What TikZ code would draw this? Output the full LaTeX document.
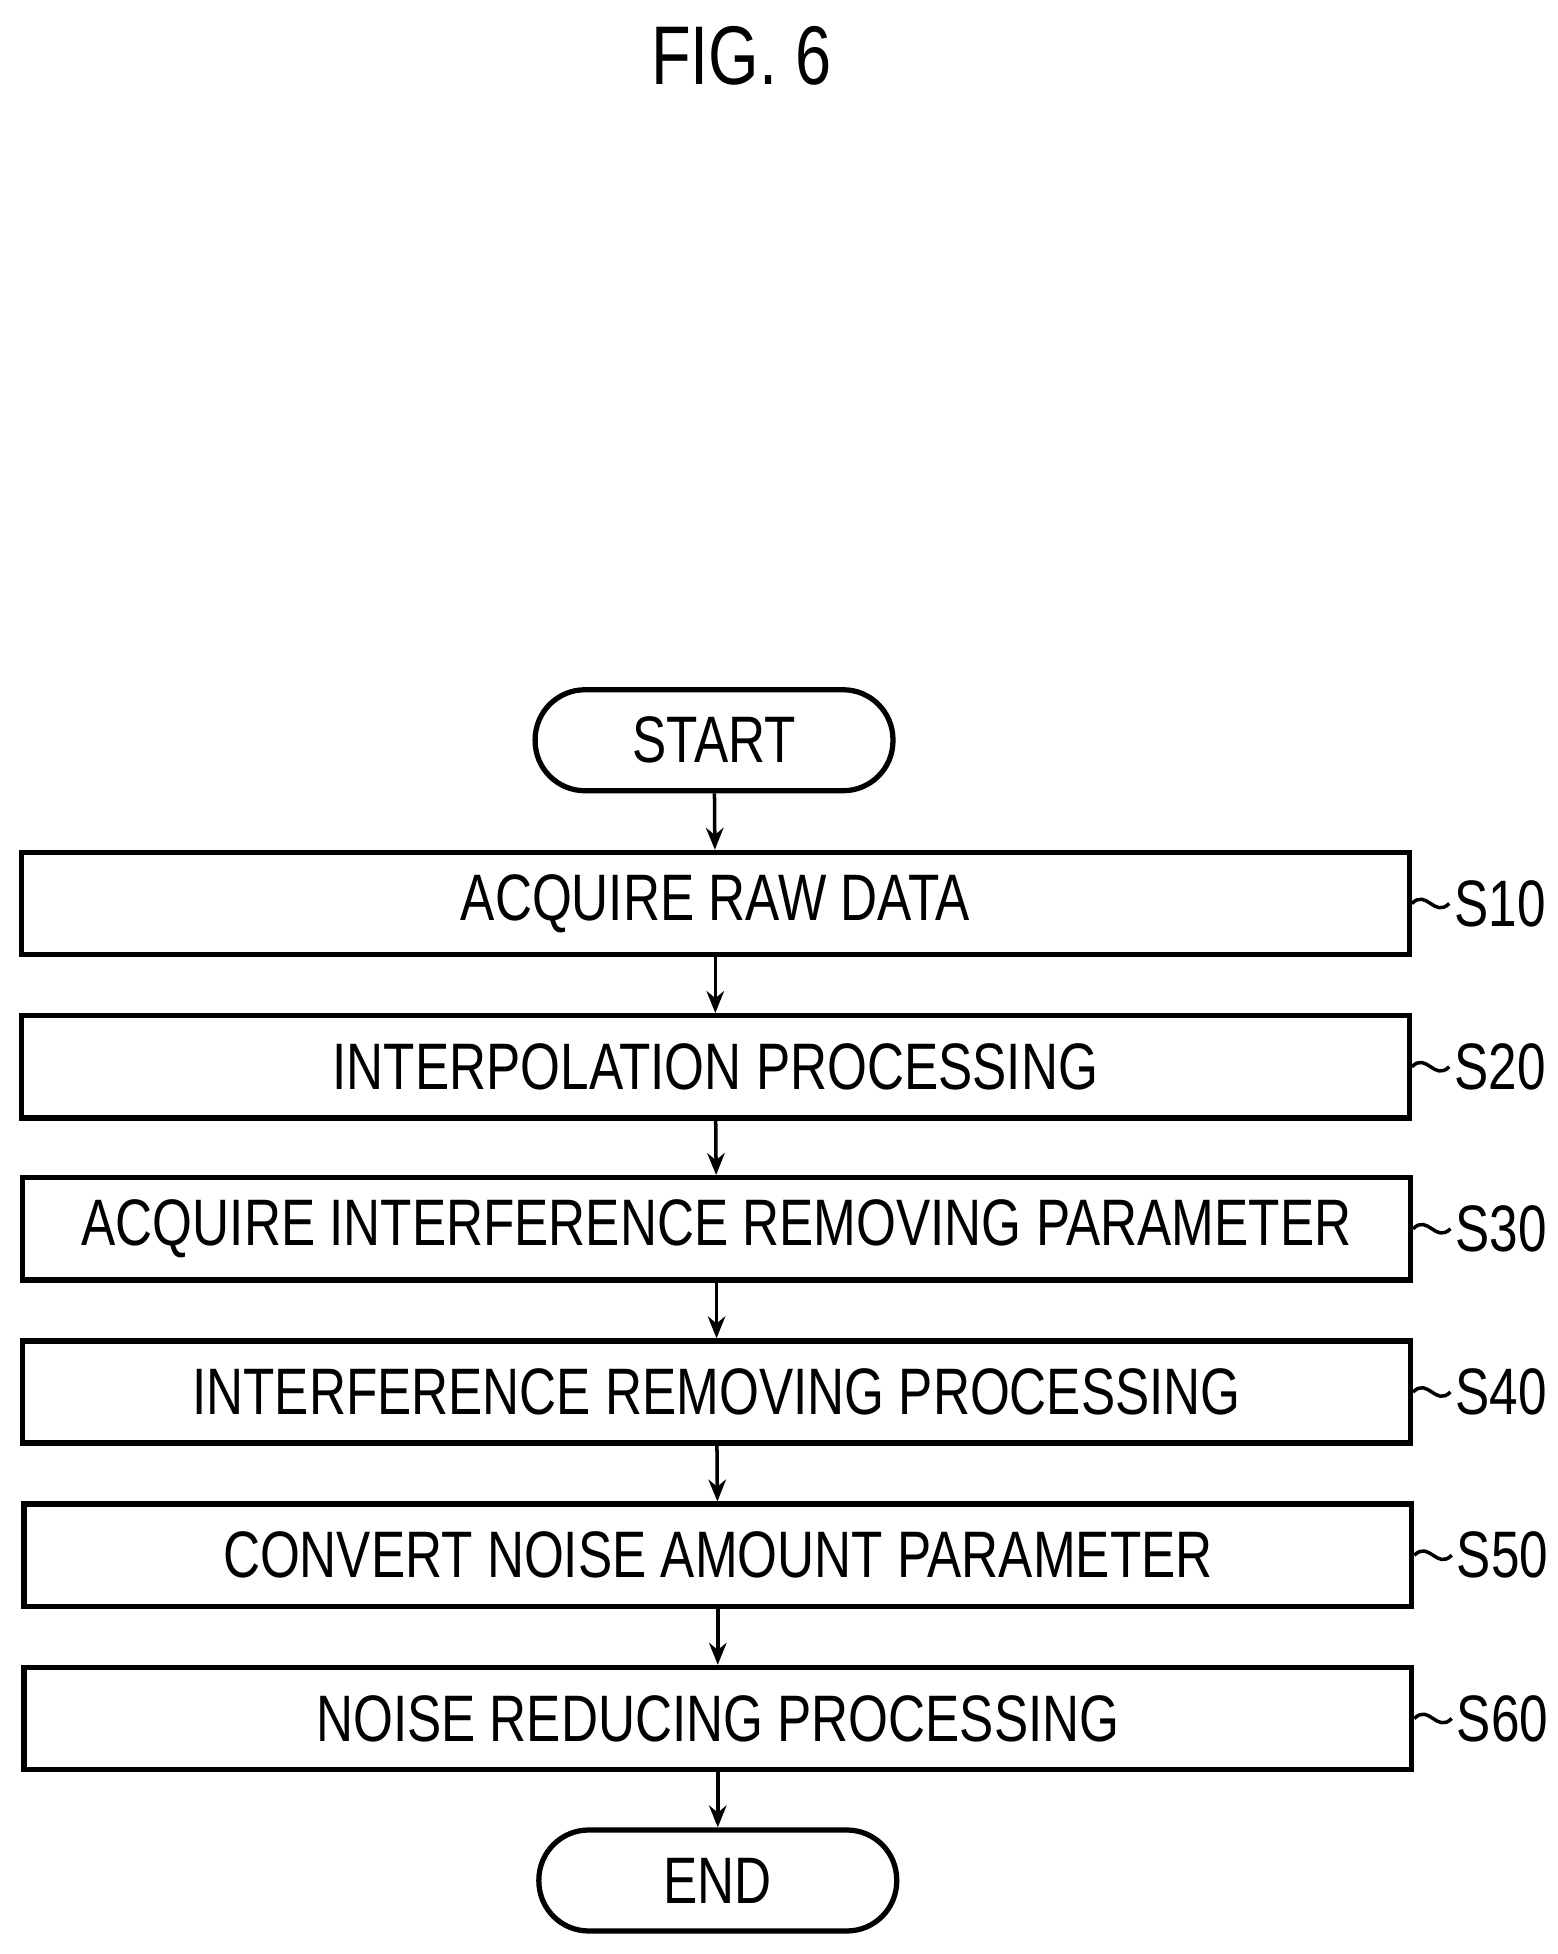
\documentclass[tikz,border=0pt]{standalone}
\usepackage{fontspec}
\setmainfont{Liberation Sans}[FakeStretch=0.78]
\usetikzlibrary{positioning,arrows.meta}

\begin{document}
\begin{tikzpicture}[x=0.01cm,y=-0.01cm,
	proc/.style={draw,line width=1.2pt,minimum width=11.13cm,minimum height=0.82cm,inner sep=0pt,font=\fontsize{15}{15}\selectfont},
	term/.style={draw,line width=1.2pt,rounded corners=0.4cm,minimum width=2.87cm,minimum height=0.81cm,inner sep=0pt,font=\fontsize{15}{15}\selectfont},
	tag/.style={font=\fontsize{15}{15}\selectfont,inner sep=1pt,anchor=west},
	flow/.style={-{Stealth[length=5pt,width=4pt]},line width=0.8pt}]
	\useasboundingbox (0,0) rectangle (1250,1568);
	\node[font=\fontsize{19}{19}\selectfont] (title) at (595,45) {FIG. 6};
	% flow chart
	\node[term] (start) at (573,594) {START};
	\node[proc] (s10) at (574,725) {ACQUIRE RAW DATA};
	\node[proc] (s20) at (574,856) {INTERPOLATION PROCESSING};
	\node[proc] (s30) at (575,986) {ACQUIRE INTERFERENCE REMOVING PARAMETER};
	\node[proc] (s40) at (575,1117) {INTERFERENCE REMOVING PROCESSING};
	\node[proc] (s50) at (576,1248) {CONVERT NOISE AMOUNT PARAMETER};
	\node[proc] (s60) at (576,1379) {NOISE REDUCING PROCESSING};
	\node[term] (end) at (576,1509) {END};
	\draw[flow] (start) -- (s10);
	\draw[flow] (s10) -- (s20);
	\draw[flow] (s20) -- (s30);
	\draw[flow] (s30) -- (s40);
	\draw[flow] (s40) -- (s50);
	\draw[flow] (s50) -- (s60);
	\draw[flow] (s60) -- (end);
	% step numbers
	\foreach \s/\t in {s10/S10,s20/S20,s30/S30,s40/S40,s50/S50,s60/S60}{
		\node[tag] (\s l) at ([xshift=0.3cm]\s.east) {\t};
		\draw[line width=0.8pt] (\s.east) .. controls +(12,-12) and +(-12,12) .. (\s l.west);
	}
\end{tikzpicture}
\end{document}
